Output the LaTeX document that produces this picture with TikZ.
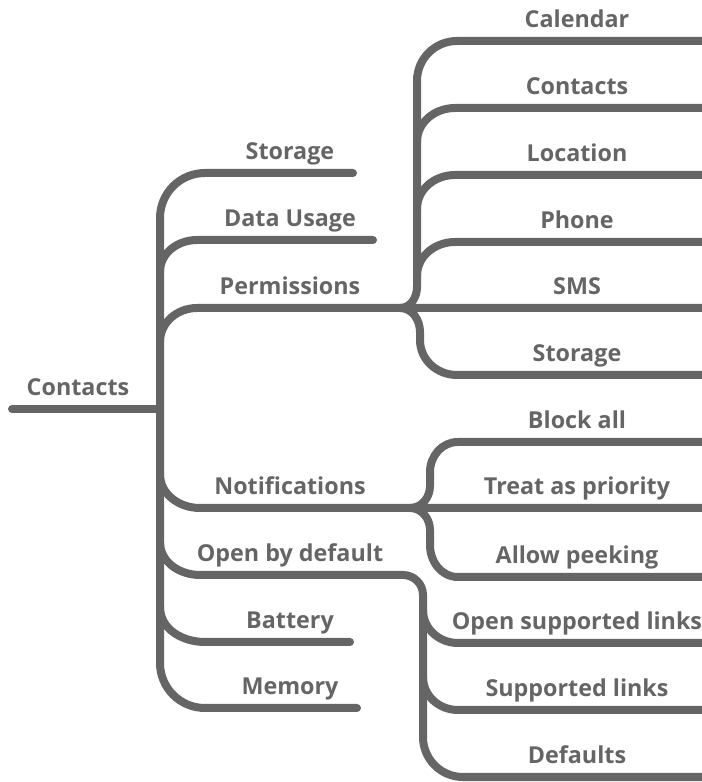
\documentclass[tikz,border=0pt]{standalone}
\usepackage{fontspec}
\setmainfont{Open Sans}
\usepackage{tikz}
\usetikzlibrary{positioning,calc}

\definecolor{branchgray}{HTML}{656565}

\tikzset{
  branch/.style={draw=branchgray, line width=8bp, line cap=round, line join=round},
  lbl/.style={text=branchgray, font=\fontsize{23.4}{26}\selectfont\bfseries, anchor=base, inner sep=0pt}
}

\begin{document}
\begin{tikzpicture}[x=1bp,y=1bp]
        \useasboundingbox (0,0) rectangle (702,782);

        % junctions
        \coordinate (hub) at (160,373);
        \coordinate (permJ) at (400,474);
        \coordinate (notifJ) at (410,274);
        \coordinate (openJ) at (423,187);

        % root and trunk
        \draw[branch] (12,373) -- (hub);
        \draw[branch] (353,609) -- (205,609) to[out=180,in=90] (160,564) -- (160,119) to[out=-90,in=180] (205,74) -- (357,74);
        \draw[branch] (160,510) to[out=90,in=180] (197,542) -- (373,542);
        \draw[branch] (160,440) to[out=90,in=180] (197,474) -- (permJ) -- (702,474);
        \draw[branch] (160,308) to[out=-90,in=180] (200,274) -- (notifJ) -- (702,274);
        \draw[branch] (160,240) to[out=-90,in=180] (200,207) -- (403,207) to[out=0,in=90] (openJ);
        \draw[branch] (160,175) to[out=-90,in=180] (205,140) -- (350,140);

        % permissions
        \draw[branch] (permJ) to[out=0,in=-90] (417,495) -- (417,701) to[out=90,in=180] (457,741) -- (702,741);
        \draw[branch] (417,640) to[out=90,in=180] (455,674) -- (702,674);
        \draw[branch] (417,573) to[out=90,in=180] (455,607) -- (702,607);
        \draw[branch] (417,506) to[out=90,in=180] (455,540) -- (702,540);
        \draw[branch] (permJ) to[out=0,in=90] (420,450) -- (420,442) to[out=-90,in=180] (457,407) -- (702,407);

        % notifications
        \draw[branch] (notifJ) to[out=0,in=-90] (430,296) -- (430,310) to[out=90,in=180] (458,340) -- (702,340);
        \draw[branch] (notifJ) to[out=0,in=90] (430,252) -- (430,237) to[out=-90,in=180] (458,205) -- (702,205);

        % open by default
        \draw[branch] (openJ) -- (423,45) to[out=-90,in=180] (463,5) -- (702,5);
        \draw[branch] (423,172) to[out=-90,in=180] (458,139) -- (702,139);
        \draw[branch] (423,105) to[out=-90,in=180] (458,72) -- (702,72);

        % labels
        \node[lbl] (contacts) at (78,386) {Contacts};
        \node[lbl] (storage) at (290,622) {Storage};
        \node[lbl] (datausage) at (290,555) {Data Usage};
        \node[lbl] (permissions) at (290,487) {Permissions};
        \node[lbl] (notifications) at (290,287) {Notifications};
        \node[lbl] (openbydefault) at (290,220) {Open by default};
        \node[lbl] (battery) at (290,153) {Battery};
        \node[lbl] (memory) at (290,87) {Memory};

        \node[lbl] (calendar) at (577,754) {Calendar};
        \node[lbl] (permcontacts) at (577,687) {Contacts};
        \node[lbl] (location) at (577,620) {Location};
        \node[lbl] (phone) at (577,553) {Phone};
        \node[lbl] (sms) at (577,487) {SMS};
        \node[lbl] (permstorage) at (577,420) {Storage};
        \node[lbl] (blockall) at (577,353) {Block all};
        \node[lbl] (priority) at (577,287) {Treat as priority};
        \node[lbl] (peeking) at (577,218) {Allow peeking};
        \node[lbl] (openlinks) at (577,152) {Open supported links};
        \node[lbl] (supportedlinks) at (577,85) {Supported links};
        \node[lbl] (defaults) at (577,18) {Defaults};
    \end{tikzpicture}
\end{document}
